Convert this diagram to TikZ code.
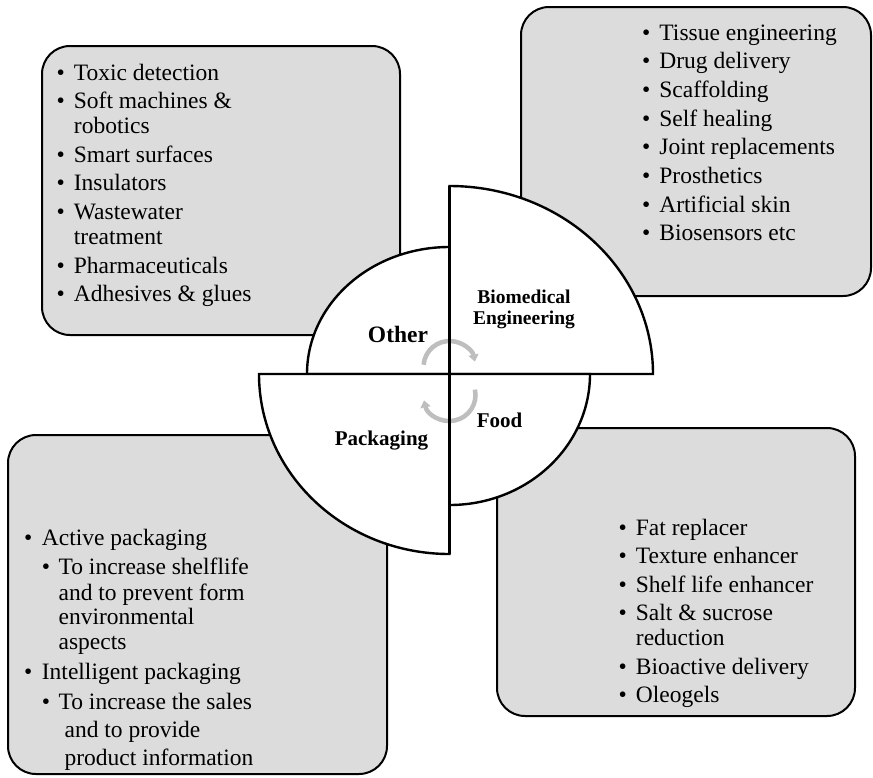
\documentclass[tikz,border=0pt]{standalone}
\usepackage{fontspec}
\setmainfont{Liberation Serif}
\usetikzlibrary{arrows.meta}

\definecolor{panelgray}{RGB}{220,220,220}
\definecolor{cyclegray}{RGB}{190,190,190}

\tikzset{
  panel/.style={draw=black, line width=2pt, fill=panelgray, rounded corners=28pt},
  sector/.style={draw=black, line width=2.4pt, fill=white, line join=miter},
  divider/.style={draw=black, line width=2.6pt},
  listtext/.style={anchor=base west, inner sep=0pt, font=\fontsize{23.5}{24.5}\selectfont},
  sectorname/.style={anchor=base, inner sep=0pt, font=\bfseries\fontsize{#1}{21.3}\selectfont},
  cyclearrow/.style={draw=cyclegray, line width=4.5pt, -{Triangle[length=7pt,width=10pt]}}
}

\begin{document}
\begin{tikzpicture}[x=1pt, y=-1pt]
\useasboundingbox (0,0) rectangle (873,777);

% rounded grey panels holding the application lists
\path[panel] (42,46) rectangle (400,335);
\path[panel] (521,7) rectangle (871,296);
\path[panel] (8,435) rectangle (387,774);
\path[panel] (497,428) rectangle (855,716);

% four quarter sectors round the hub
\coordinate (hub) at (449.5,374);
\path[sector] (hub) -- ++(203.5,0) arc[start angle=0, end angle=-90, x radius=203.5, y radius=188] -- cycle;
\path[sector] (hub) -- ++(-142.5,0) arc[start angle=180, end angle=270, x radius=142.5, y radius=127] -- cycle;
\path[sector] (hub) -- ++(-190.5,0) arc[start angle=180, end angle=90, x radius=190.5, y radius=180] -- cycle;
\path[sector] (hub) -- ++(140.5,0) arc[start angle=0, end angle=90, x radius=140.5, y radius=131] -- cycle;

% circular arrows at the centre
\coordinate (cycletop) at (449.5,367);
\coordinate (cyclebottom) at (449.5,395);
\draw[cyclearrow] (cycletop) ++(185:26) arc[start angle=185, end angle=348, radius=26];
\draw[cyclearrow] (cyclebottom) ++(-12:26) arc[start angle=-12, end angle=168, radius=26];

% dividing lines of the sectors
\coordinate (vtop) at (449.5,186);
\coordinate (vbottom) at (449.5,554);
\coordinate (hleft) at (259,374);
\coordinate (hright) at (653,374);
\path[divider] (vtop) -- (vbottom);
\path[divider] (hleft) -- (hright);

% sector names
\node[sectorname=23.5] (other) at (398,342) {Other};
\node[sectorname=19.5] (biomed) at (524,303)
  {\begin{tabular}[t]{@{}c@{}}Biomedical\\Engineering\end{tabular}};
\node[sectorname=21] (packaging) at (381.5,445.5) {Packaging};
\node[sectorname=21] (food) at (499.5,427.5) {Food};

% application lists
\node[listtext] (otherlist) at (56.5,80) {\begin{tabular}[t]{@{}l@{\hspace{9pt}}l@{}}
\textbullet & Toxic detection\\[4.3pt]
\textbullet & Soft machines \&\\
 & robotics\\[4.3pt]
\textbullet & Smart surfaces\\[4.3pt]
\textbullet & Insulators\\[4.3pt]
\textbullet & Wastewater\\
 & treatment\\[4.3pt]
\textbullet & Pharmaceuticals\\[4.3pt]
\textbullet & Adhesives \& glues
\end{tabular}};

\node[listtext] (biomedlist) at (642,40) {\begin{tabular}[t]{@{}l@{\hspace{9pt}}l@{}}
\textbullet & Tissue engineering\\[4.2pt]
\textbullet & Drug delivery\\[4.2pt]
\textbullet & Scaffolding\\[4.2pt]
\textbullet & Self healing\\[4.2pt]
\textbullet & Joint replacements\\[4.2pt]
\textbullet & Prosthetics\\[4.2pt]
\textbullet & Artificial skin\\[4.2pt]
\textbullet & Biosensors etc
\end{tabular}};

\node[listtext] (foodlist) at (618.5,535) {\begin{tabular}[t]{@{}l@{\hspace{9pt}}l@{}}
\textbullet & Fat replacer\\[4pt]
\textbullet & Texture enhancer\\[4pt]
\textbullet & Shelf life enhancer\\[4pt]
\textbullet & Salt \& sucrose\\
 & reduction\\[4.5pt]
\textbullet & Bioactive delivery\\[4pt]
\textbullet & Oleogels
\end{tabular}};

\node[listtext] (packlist) at (24,545.5) {\begin{tabular}[t]{@{}l@{\hspace{9.5pt}}l@{\hspace{8.5pt}}l@{}}
\textbullet & \multicolumn{2}{@{}l@{}}{Active packaging}\\[4.5pt]
 & \textbullet & To increase shelflife\\[1pt]
 & & and to prevent form\\
 & & environmental\\
 & & aspects\\[5.5pt]
\textbullet & \multicolumn{2}{@{}l@{}}{Intelligent packaging}\\[5.5pt]
 & \textbullet & To increase the sales\\[3.5pt]
 & & \hspace{6pt}and to provide\\[3.5pt]
 & & \hspace{6pt}product information
\end{tabular}};
\end{tikzpicture}
\end{document}
